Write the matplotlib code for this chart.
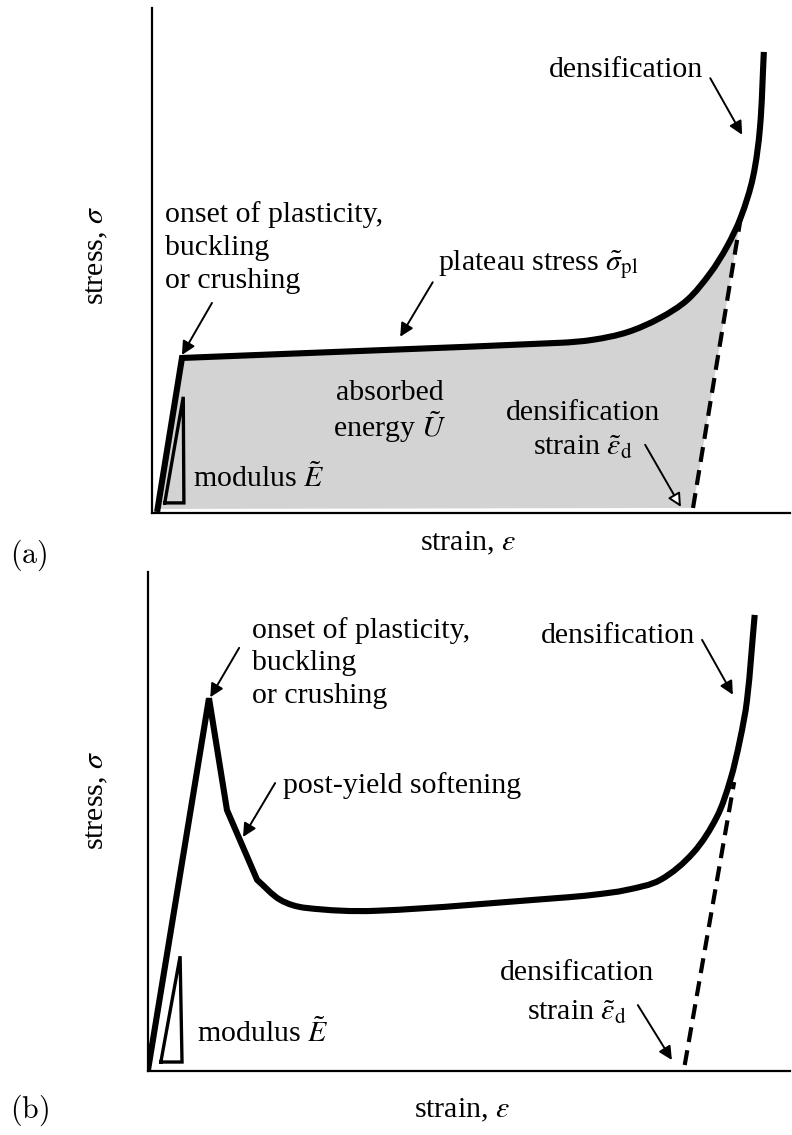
import matplotlib
matplotlib.use("Agg")
import numpy as np
import matplotlib.pyplot as plt
from matplotlib.path import Path
from matplotlib.patches import PathPatch

plt.rcParams["font.family"] = ["Liberation Serif", "DejaVu Serif"]
plt.rcParams["mathtext.fontset"] = "stix"

# ---- panel (a): plateau-type response (normalised strain, stress) ----
a_strain = [0.008, 0.047, 0.639, 0.691, 0.745, 0.796, 0.839, 0.875, 0.901,
            0.923, 0.942, 0.953, 0.959]
a_stress = [0.002, 0.307, 0.337, 0.343, 0.358, 0.386, 0.422, 0.475, 0.527,
            0.586, 0.665, 0.764, 0.913]
a_dens_strain = [0.848, 0.923]
a_dens_stress = [0.010, 0.586]
a_tri_strain = [0.020, 0.050, 0.049, 0.020]
a_tri_stress = [0.020, 0.020, 0.230, 0.020]

# ---- panel (b): response with post-yield softening ----
b_strain = [0.000, 0.095, 0.123, 0.170, 0.206, 0.245, 0.354, 0.642, 0.693,
            0.746, 0.798, 0.849, 0.886, 0.907, 0.922, 0.933, 0.945]
b_stress = [0.002, 0.747, 0.523, 0.383, 0.343, 0.327, 0.321, 0.347, 0.353,
            0.363, 0.383, 0.437, 0.509, 0.583, 0.663, 0.743, 0.914]
b_dens_strain = [0.836, 0.913]
b_dens_stress = [0.012, 0.579]
b_tri_strain = [0.020, 0.053, 0.050, 0.020]
b_tri_stress = [0.018, 0.018, 0.230, 0.018]

W, H = 792, 1135
fig = plt.figure(figsize=(W / 100, H / 100), dpi=100)

ax_a = fig.add_axes([152 / W, 1 - 513 / H, 638 / W, 505 / H])
ax_b = fig.add_axes([148 / W, 1 - 1071 / H, 642 / W, 499 / H])

FS = 21.5
CURVE_LW = 4.4
DASHES = (3.6, 2.0)
ARROW = dict(arrowstyle="-|>", lw=1.4, color="k", mutation_scale=20,
             shrinkA=0, shrinkB=0)

for ax in (ax_a, ax_b):
    ax.set_xlim(0, 1)
    ax.set_ylim(0, 1)
    ax.set_xticks([])
    ax.set_yticks([])
    for side in ("top", "right"):
        ax.spines[side].set_visible(False)
    for side in ("left", "bottom"):
        ax.spines[side].set_linewidth(1.6)
        ax.spines[side].set_zorder(5)


def curve_path(ax, xs, ys, n_sharp):
    """Straight segments through the first n_sharp corners, then a smooth
    cubic Bezier path through the remaining points."""
    bb = ax.get_position()
    sx, sy = bb.width * W, bb.height * H
    pts = np.column_stack([np.asarray(xs) * sx, np.asarray(ys) * sy])
    verts = [pts[0]]
    codes = [Path.MOVETO]
    for p in pts[1:n_sharp + 1]:
        verts.append(p)
        codes.append(Path.LINETO)
    s = pts[n_sharp:]
    tang = []
    for i in range(len(s)):
        if i == 0:
            d = s[1] - s[0]
        elif i == len(s) - 1:
            d = s[-1] - s[-2]
        else:
            d = s[i + 1] - s[i - 1]
        tang.append(d / np.hypot(*d))
    for i in range(len(s) - 1):
        h = np.hypot(*(s[i + 1] - s[i])) / 3
        verts += [s[i] + tang[i] * h, s[i + 1] - tang[i + 1] * h, s[i + 1]]
        codes += [Path.CURVE4] * 3
    verts = np.array(verts) / [sx, sy]
    return verts, codes


def txt(ax, x, y, s, **kw):
    kw.setdefault("ha", "left")
    kw.setdefault("va", "baseline")
    ax.text(x, y, s, fontsize=FS, **kw)


def arrow(ax, start, tip, **kw):
    props = dict(ARROW)
    props.update(kw)
    ax.annotate("", xy=tip, xytext=start, arrowprops=props)


# ---------------- panel (a) ----------------
verts_a, codes_a = curve_path(ax_a, a_strain, a_stress, 1)

# absorbed energy: area under the curve up to the densification line
idx = a_strain.index(a_dens_strain[1])
n_keep = 1 + 1 + 3 * (idx - 1)
fill_verts = list(verts_a[:n_keep]) + [(a_dens_strain[0], a_dens_stress[0]),
                                       (a_strain[0], 0.008), (0, 0)]
fill_codes = list(codes_a[:n_keep]) + [Path.LINETO, Path.LINETO,
                                       Path.CLOSEPOLY]
ax_a.add_patch(PathPatch(Path(fill_verts, fill_codes), fc="#d3d3d3",
                         ec="none", lw=0, zorder=1))
ax_a.add_patch(PathPatch(Path(verts_a, codes_a), fill=False, ec="k",
                         lw=CURVE_LW, joinstyle="miter", capstyle="butt",
                         zorder=3))
ax_a.plot(a_dens_strain, a_dens_stress, color="k", lw=3.0,
          dashes=DASHES, zorder=3)
ax_a.plot(a_tri_strain, a_tri_stress, color="k", lw=2.4,
          solid_joinstyle="miter", zorder=3)

txt(ax_a, 0.0204, 0.576, "onset of plasticity,")
txt(ax_a, 0.0204, 0.511, "buckling")
txt(ax_a, 0.0204, 0.446, "or crushing")
arrow(ax_a, (0.094, 0.416), (0.047, 0.313))

txt(ax_a, 0.448, 0.481, r"plateau stress $\tilde{\sigma}_{\mathrm{pl}}$")
arrow(ax_a, (0.440, 0.457), (0.389, 0.349))

txt(ax_a, 0.373, 0.224, "absorbed", ha="center")
txt(ax_a, 0.373, 0.150, r"energy $\tilde{U}$", ha="center")

txt(ax_a, 0.676, 0.184, "densification", ha="center")
txt(ax_a, 0.676, 0.115, r"strain $\tilde{\varepsilon}_{\mathrm{d}}$",
    ha="center")
arrow(ax_a, (0.773, 0.135), (0.829, 0.012), fc="white", ec="k")

txt(ax_a, 0.064, 0.051, r"modulus $\tilde{E}$")

txt(ax_a, 0.864, 0.863, "densification", ha="right")
arrow(ax_a, (0.875, 0.861), (0.925, 0.749))

# ---------------- panel (b) ----------------
verts_b, codes_b = curve_path(ax_b, b_strain, b_stress, 3)
ax_b.add_patch(PathPatch(Path(verts_b, codes_b), fill=False, ec="k",
                         lw=CURVE_LW, joinstyle="miter", capstyle="butt",
                         zorder=3))
ax_b.plot(b_dens_strain, b_dens_stress, color="k", lw=3.0,
          dashes=DASHES, zorder=3)
ax_b.plot(b_tri_strain, b_tri_stress, color="k", lw=2.4,
          solid_joinstyle="miter", zorder=3)

txt(ax_b, 0.162, 0.868, "onset of plasticity,")
txt(ax_b, 0.162, 0.804, "buckling")
txt(ax_b, 0.162, 0.737, "or crushing")
arrow(ax_b, (0.142, 0.848), (0.097, 0.749))

txt(ax_b, 0.210, 0.557, "post-yield softening")
arrow(ax_b, (0.198, 0.577), (0.148, 0.469))

txt(ax_b, 0.852, 0.858, "densification", ha="right")
arrow(ax_b, (0.863, 0.864), (0.911, 0.754))

txt(ax_b, 0.668, 0.182, "densification", ha="center")
txt(ax_b, 0.668, 0.102, r"strain $\tilde{\varepsilon}_{\mathrm{d}}$",
    ha="center")
arrow(ax_b, (0.763, 0.132), (0.816, 0.022))

txt(ax_b, 0.076, 0.058, r"modulus $\tilde{E}$")

# ---------------- axis labels and panel tags ----------------
for y in (255, 800):
    fig.text(97 / W, 1 - y / H, r"stress, $\sigma$", rotation=90,
             ha="center", va="center", fontsize=FS)
for x, y in ((468, 543), (462, 1110)):
    fig.text(x / W, 1 - y / H, r"strain, $\varepsilon$", ha="center",
             va="center", fontsize=FS)
for tag, y in (("(a)", 555), ("(b)", 1110)):
    fig.text(10 / W, 1 - y / H, r"$\mathrm{" + tag + "}$", ha="left",
             va="center", fontsize=FS, math_fontfamily="cm")

fig.savefig("out.png", dpi=100)
